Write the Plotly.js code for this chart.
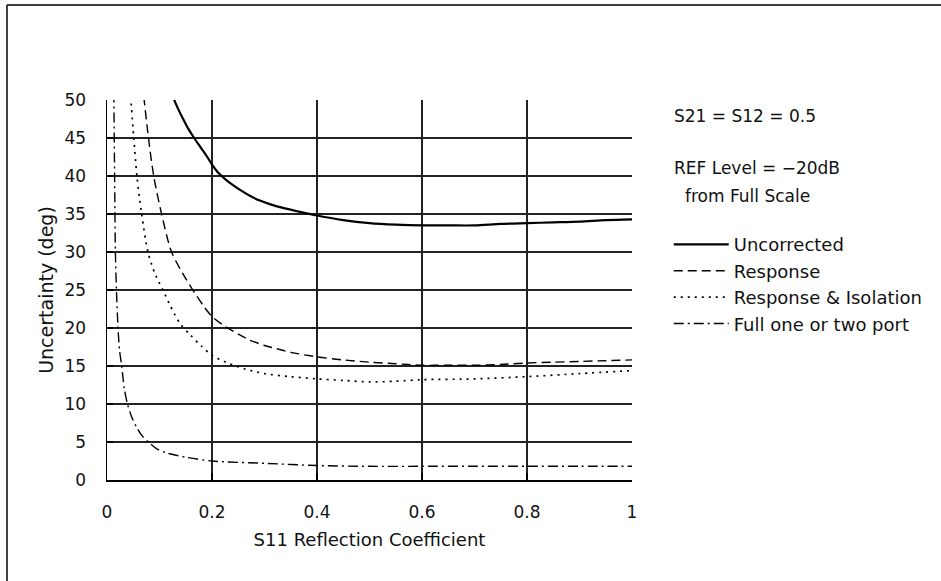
<!DOCTYPE html>
<html>
<head>
<meta charset="utf-8">
<script src="https://cdn.plot.ly/plotly-3.0.1.min.js"></script>
<style>html,body{margin:0;padding:0;background:#fff;}#chart{width:941px;height:581px;}</style>
</head>
<body>
<div id="chart"></div>
<script>
// ---- data ----
const uncorrX = [0.125, 0.135, 0.145, 0.155, 0.166, 0.18, 0.19, 0.2, 0.211, 0.225, 0.24, 0.255, 0.272, 0.29, 0.31, 0.335, 0.36, 0.38, 0.4, 0.45, 0.5, 0.55, 0.6, 0.65, 0.7, 0.75, 0.8, 0.85, 0.9, 0.95, 1.0];
const uncorrY = [50.5, 48.9, 47.5, 46.2, 45.0, 43.6, 42.6, 41.5, 40.5, 39.6, 38.8, 38.1, 37.4, 36.8, 36.3, 35.8, 35.4, 35.1, 34.8, 34.2, 33.8, 33.6, 33.5, 33.5, 33.5, 33.7, 33.8, 33.9, 34.0, 34.2, 34.3];

const respX = [0.07, 0.079, 0.089, 0.104, 0.123, 0.15, 0.17, 0.185, 0.2, 0.225, 0.25, 0.272, 0.3, 0.316, 0.35, 0.4, 0.45, 0.5, 0.55, 0.6, 0.65, 0.7, 0.75, 0.8, 0.85, 0.9, 0.95, 1.0];
const respY = [50.5, 45, 40, 35, 30, 26.5, 24.3, 22.8, 21.5, 20.2, 19.2, 18.4, 17.7, 17.4, 16.8, 16.2, 15.8, 15.5, 15.3, 15.1, 15.1, 15.1, 15.2, 15.4, 15.5, 15.6, 15.7, 15.8];

const isoX = [0.045, 0.051, 0.057, 0.066, 0.078, 0.091, 0.097, 0.11, 0.12, 0.139, 0.16, 0.18, 0.2, 0.23, 0.263, 0.3, 0.349, 0.4, 0.45, 0.5, 0.55, 0.6, 0.7, 0.8, 0.9, 1.0];
const isoY = [50.5, 45, 40, 35, 30, 27.2, 26.3, 24.5, 23.0, 20.6, 19.0, 17.6, 16.4, 15.4, 14.6, 14.0, 13.6, 13.3, 13.1, 12.9, 13.0, 13.2, 13.3, 13.6, 14.0, 14.4];

const fullX = [0.013, 0.0145, 0.016, 0.018, 0.021, 0.024, 0.028, 0.033, 0.039, 0.047, 0.056, 0.067, 0.079, 0.095, 0.114, 0.15, 0.2, 0.3, 0.4, 0.5, 0.6, 0.7, 0.8, 0.9, 1.0];
const fullY = [51, 40, 30, 25, 20, 17, 15, 12, 10, 8.3, 7, 5.8, 5, 4.1, 3.55, 3.0, 2.5, 2.2, 1.9, 1.8, 1.8, 1.8, 1.8, 1.8, 1.8];

const seriesNames = ["Uncorrected", "Response", "Response &amp; Isolation", "Full one or two port"];
const xTickVals = [0, 0.2, 0.4, 0.6, 0.8, 1];
const xTickText = ["0", "0.2", "0.4", "0.6", "0.8", "1"];
const yTickVals = [0, 5, 10, 15, 20, 25, 30, 35, 40, 45, 50];
const xGridVals = [0.2, 0.4, 0.6, 0.8];
const yGridVals = [5, 10, 15, 20, 25, 30, 35, 40, 45];
const noteLines = ["S21 = S12 = 0.5", "REF Level = \u221220dB", "from Full Scale"];

// ---- chart ----
const FONT = "DejaVu Sans, Liberation Sans, sans-serif";
const ink = "#111";
const traces = [
  {x: uncorrX, y: uncorrY, name: seriesNames[0], line: {color: "#000", width: 2.2, shape: "spline", smoothing: 0.8}},
  {x: respX, y: respY, name: seriesNames[1], line: {color: "#000", width: 1.4, dash: "9px,5px", shape: "spline", smoothing: 0.8}},
  {x: isoX, y: isoY, name: seriesNames[2], line: {color: "#000", width: 1.7, dash: "2px,5px", shape: "spline", smoothing: 0.8}},
  {x: fullX, y: fullY, name: seriesNames[3], line: {color: "#000", width: 1.4, dash: "10px,4px,2px,4px", shape: "spline", smoothing: 0.8}}
].map(t => Object.assign({type: "scatter", mode: "lines", hoverinfo: "skip"}, t));

const layout = {
  width: 941, height: 581,
  margin: {l: 107, r: 309, t: 100, b: 101, autoexpand: false},
  paper_bgcolor: "#fff", plot_bgcolor: "#fff",
  font: {family: FONT, size: 17, color: ink},
  showlegend: true,
  legend: {x: 1.07, xanchor: "left", y: 0.668, yanchor: "top", bgcolor: "rgba(0,0,0,0)",
           font: {family: FONT, size: 18, color: ink}, tracegroupgap: 0, itemwidth: 55},
  xaxis: {range: [0, 1], tickvals: xTickVals, ticktext: xTickText, showgrid: false,
          zeroline: false, showline: true, linecolor: "#000", linewidth: 1.5,
          ticks: "inside", ticklen: 7, tickcolor: "#000", tickwidth: 1.5,
          ticklabelstandoff: 16, tickfont: {family: FONT, size: 17, color: ink},
          minor: {tickvals: xGridVals, showgrid: true, gridcolor: "#222", gridwidth: 1.3, ticks: ""},
          title: {text: "S11 Reflection Coefficient", standoff: 12, font: {family: FONT, size: 18, color: ink}}},
  yaxis: {range: [0, 50], tickvals: yTickVals, showgrid: false,
          zeroline: false, showline: true, linecolor: "#000", linewidth: 1.5,
          ticks: "inside", ticklen: 6, tickcolor: "#000", tickwidth: 1.5,
          ticklabelstandoff: 16, tickfont: {family: FONT, size: 17, color: ink},
          minor: {tickvals: yGridVals, showgrid: true, gridcolor: "#222", gridwidth: 1.3, ticks: ""},
          title: {text: "Uncertainty (deg)", standoff: 6, font: {family: FONT, size: 19, color: ink}}},
  annotations: [
    {text: noteLines[0], xref: "paper", yref: "paper", x: 1.076, y: 0.958, xanchor: "left", yanchor: "middle", showarrow: false},
    {text: noteLines[1], xref: "paper", yref: "paper", x: 1.076, y: 0.821, xanchor: "left", yanchor: "middle", showarrow: false},
    {text: noteLines[2], xref: "paper", yref: "paper", x: 1.097, y: 0.747, xanchor: "left", yanchor: "middle", showarrow: false}
  ],
  shapes: [
    {type: "line", xref: "paper", yref: "paper", x0: -0.1905, x1: 1.62, y0: 1.25, y1: 1.25, line: {color: "#000", width: 1.5}},
    {type: "line", xref: "paper", yref: "paper", x0: -0.1905, x1: -0.1905, y0: 1.25, y1: -0.3, line: {color: "#000", width: 1.5}}
  ]
};

Plotly.newPlot("chart", traces, layout, {displayModeBar: false, staticPlot: true});
</script>
</body>
</html>
